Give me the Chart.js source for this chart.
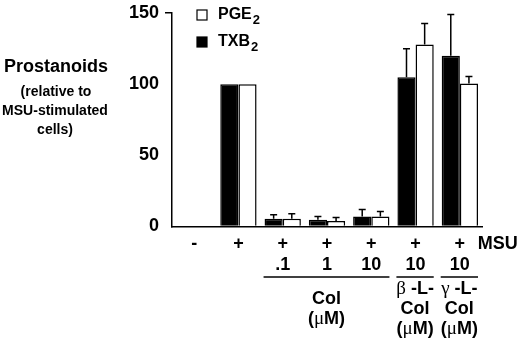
<!DOCTYPE html>
<html>
<head>
<meta charset="utf-8">
<script src="https://cdn.jsdelivr.net/npm/chart.js@4/dist/chart.umd.min.js"></script>
<style>
  html, body { margin: 0; padding: 0; background: #fff; }
  #wrap { width: 520px; height: 340px; }
</style>
</head>
<body>
<div id="wrap"><canvas id="chart"></canvas></div>
<script>
// data
const categories = ['-', '+', '+', '+', '+', '+', '+'];      // MSU row
const doses = ['', '', '.1', '1', '10', '10', '10'];
const txb2 = [null, 100, 5.5, 4.8, 7.1, 105, 120];
const txb2Err = [0, 0, 2.7, 2.3, 4.8, 20, 29];
const pge2 = [null, 100, 5.5, 3.8, 7.1, 128, 100.5];
const pge2Err = [0, 0, 3.4, 2.6, 3.4, 14.7, 5];
const yTicks = [0, 50, 100, 150];
const treatments = [
  { from: 2, to: 4, lines: ['Col', '(μM)'] },
  { from: 5, to: 5, lines: ['β -L-', 'Col', '(μM)'] },
  { from: 6, to: 6, lines: ['γ -L-', 'Col', '(μM)'] },
];
const yLabel = ['Prostanoids', '(relative to', 'MSU-stimulated', 'cells)'];

const FONT = 'Helvetica, Arial, "Liberation Sans", sans-serif';
const GREEK = /[βγμ]/;

// draws a line centred on cx, greek letters in a plain serif like the original
function mixedText(ctx, text, cx, y) {
  const runs = [];
  for (const ch of text) {
    const g = GREEK.test(ch);
    if (runs.length && runs[runs.length - 1].g === g) runs[runs.length - 1].t += ch;
    else runs.push({ t: ch, g });
  }
  const fontFor = r => r.g ? '19px "Liberation Serif", "DejaVu Serif", serif' : 'bold 18px ' + FONT;
  let total = 0;
  runs.forEach(r => { ctx.font = fontFor(r); r.w = ctx.measureText(r.t).width; total += r.w; });
  let x = cx - total / 2;
  ctx.textAlign = 'left';
  runs.forEach(r => { ctx.font = fontFor(r); ctx.fillText(r.t, x, y); x += r.w; });
}

const errorBars = {
  id: 'errorBars',
  afterDatasetsDraw(chart) {
    const ctx = chart.ctx;
    const y = chart.scales.y;
    const errs = [txb2Err, pge2Err];
    ctx.save();
    ctx.strokeStyle = '#000';
    ctx.lineWidth = 1.5;
    chart.data.datasets.forEach((ds, d) => {
      const meta = chart.getDatasetMeta(d);
      meta.data.forEach((bar, i) => {
        const e = errs[d][i];
        if (!e || ds.data[i] == null) return;
        const top = y.getPixelForValue(ds.data[i] + e);
        ctx.beginPath();
        ctx.moveTo(bar.x, bar.y);
        ctx.lineTo(bar.x, top);
        ctx.moveTo(bar.x - 3.5, top);
        ctx.lineTo(bar.x + 3.5, top);
        ctx.stroke();
      });
    });
    ctx.restore();
  }
};

const labels = {
  id: 'labels',
  afterDraw(chart) {
    const ctx = chart.ctx;
    const x = chart.scales.x;
    const area = chart.chartArea;
    const base = area.bottom;
    ctx.save();
    ctx.fillStyle = '#000';
    ctx.textBaseline = 'middle';

    // left title
    ctx.textAlign = 'center';
    ctx.font = 'bold 18px ' + FONT;
    ctx.fillText(yLabel[0], 56, 67);
    ctx.font = 'bold 14px ' + FONT;
    ctx.fillText(yLabel[1], 56, 92);
    ctx.fillText(yLabel[2], 55, 111);
    ctx.fillText(yLabel[3], 55, 130);

    // legend
    const items = [
      { name: 'PGE', fill: '#fff', y: 15 },
      { name: 'TXB', fill: '#000', y: 42 },
    ];
    items.forEach(it => {
      ctx.fillStyle = it.fill;
      ctx.fillRect(197, it.y - 5, 10, 10);
      ctx.strokeStyle = '#000';
      ctx.lineWidth = 1.2;
      ctx.strokeRect(197, it.y - 5, 10, 10);
      ctx.fillStyle = '#000';
      ctx.textAlign = 'left';
      ctx.font = 'bold 16px ' + FONT;
      ctx.fillText(it.name, 218, it.y);
      const w = ctx.measureText(it.name).width;
      ctx.font = 'bold 13px ' + FONT;
      ctx.fillText('2', 218 + w + 1, it.y + 5);
    });

    // x rows
    ctx.textAlign = 'center';
    ctx.font = 'bold 18px ' + FONT;
    categories.forEach((c, i) => {
      ctx.fillText(c, x.getPixelForValue(i), base + 17.5);
      if (doses[i]) ctx.fillText(doses[i], x.getPixelForValue(i), base + 38.5);
    });
    ctx.textAlign = 'left';
    ctx.fillText('MSU', x.getPixelForValue(6) + 18, base + 17.5);

    const m0 = chart.getDatasetMeta(0);
    const m1 = chart.getDatasetMeta(1);
    ctx.strokeStyle = '#000';
    ctx.lineWidth = 1.5;
    treatments.forEach(t => {
      const left = m0.data[t.from].x - m0.data[t.from].width / 2 - 1;
      const right = m1.data[t.to].x + m1.data[t.to].width / 2;
      ctx.beginPath();
      ctx.moveTo(left, base + 50.5);
      ctx.lineTo(right, base + 50.5);
      ctx.stroke();
      const cx = (left + right) / 2;
      const y0 = base + 82.5 - (t.lines.length - 1) * 10;
      t.lines.forEach((ln, k) => mixedText(ctx, ln, cx, y0 + k * 20));
    });
    ctx.restore();
  }
};

new Chart(document.getElementById('chart'), {
  type: 'bar',
  data: {
    labels: categories,
    datasets: [
      {
        label: 'TXB2',
        data: txb2,
        backgroundColor: '#000',
        borderColor: '#000',
        borderWidth: 1.5,
        categoryPercentage: 0.82,
        barPercentage: 1.0,
      },
      {
        label: 'PGE2',
        data: pge2,
        backgroundColor: '#fff',
        borderColor: '#000',
        borderWidth: 1.5,
        categoryPercentage: 0.82,
        barPercentage: 1.0,
      },
    ],
  },
  options: {
    responsive: true,
    maintainAspectRatio: false,
    animation: false,
    layout: {
      padding: { left: 0, right: 38, top: 8, bottom: 0 },
    },
    plugins: {
      legend: { display: false },
      tooltip: { enabled: false },
      title: { display: false },
    },
    scales: {
      x: {
        grid: { display: false },
        border: { display: true, color: '#000', width: 1.5 },
        ticks: { display: false },
        afterFit: (s) => { s.height = 113.5; },
      },
      y: {
        min: 0,
        max: 150,
        afterBuildTicks: (s) => { s.ticks = yTicks.map(v => ({ value: v })); },
        grid: {
          drawOnChartArea: false,
          tickLength: 7,
          lineWidth: 1.5,
          color: (c) => (c.tick && c.tick.value === 150 ? '#000' : 'rgba(0,0,0,0)'),
        },
        border: { display: true, color: '#000', width: 1.5 },
        ticks: {
          color: '#000',
          padding: 6,
          font: { family: FONT, size: 18, weight: 'bold', lineHeight: 0.8 },
        },
        afterFit: (s) => { s.width = 172; },
      },
    },
  },
  plugins: [errorBars, labels],
});
</script>
</body>
</html>
